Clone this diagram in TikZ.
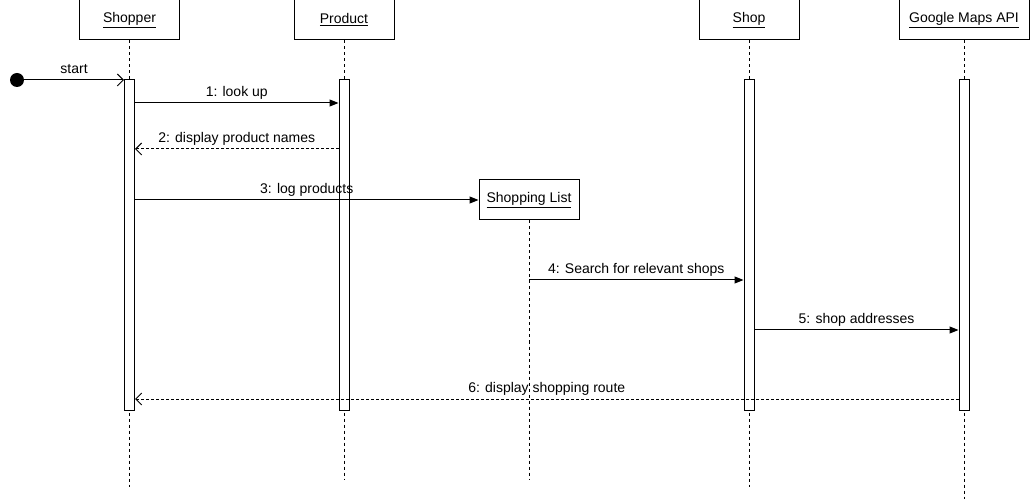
\documentclass[tikz,border=0pt]{standalone}
\usepackage{fontspec}
\setmainfont{Liberation Sans}
\usetikzlibrary{arrows.meta}

\begin{document}
\begin{tikzpicture}[x=1pt,y=-1pt,
		font=\fontsize{14}{16}\selectfont,
		objbox/.style={draw,line width=1pt,fill=white,minimum width=100pt,minimum height=40pt,inner sep=0pt},
		actbar/.style={draw,line width=1pt,fill=white,minimum width=10pt,minimum height=330pt,inner sep=0pt},
		lifeline/.style={line width=0.8pt,dash pattern=on 3pt off 3pt},
		callmsg/.style={line width=1pt,-{Triangle[length=9pt,width=7pt]}},
		replymsg/.style={line width=1pt,dash pattern=on 3pt off 2pt,-{Straight Barb[length=6pt,width=12pt]}},
		msglabel/.style={above,inner sep=3pt,text height=10pt,text depth=3pt}]
	\useasboundingbox (0,0) rectangle (1030,502);
	
	\node[objbox] (shopper) at (129.5,20) {\underline{Shopper}};
	\node[objbox] (product) at (344,20) {\underline{Product}};
	\node[objbox] (shop) at (749,20) {\underline{Shop}};
	\node[objbox,minimum width=130pt] (maps) at (964,20) {\underline{Google Maps API}};
	\node[objbox] (list) at (529,200) {\underline{Shopping List}};
	
	\coordinate (shopperend) at (129.5,487);
	\coordinate (productend) at (344,480);
	\coordinate (listend) at (529,480);
	\coordinate (shopend) at (749,487);
	\coordinate (mapsend) at (964,499);
	
	\draw[lifeline] (shopper.south) -- (shopperend);
	\draw[lifeline] (product.south) -- (productend);
	\draw[lifeline] (list.south) -- (listend);
	\draw[lifeline] (shop.south) -- (shopend);
	\draw[lifeline] (maps.south) -- (mapsend);
	
	\node[actbar] (shopperbar) at (129.5,245) {};
	\node[actbar] (productbar) at (344,245) {};
	\node[actbar] (shopbar) at (749,245) {};
	\node[actbar] (mapsbar) at (964,245) {};
	
	\node[circle,fill=black,minimum size=14pt,inner sep=0pt] (start) at (17,80) {};
	\draw[line width=1pt,-{Straight Barb[length=6pt,width=12pt]}] (start) -- (shopperbar.west |- start) node[msglabel,midway] {start};
	
	\draw[callmsg] (shopperbar.east |- 0,103) -- (productbar.west |- 0,103) node[msglabel,midway] {1: look up};
	\draw[replymsg] (productbar.west |- 0,149) -- (shopperbar.east |- 0,149) node[msglabel,midway] {2: display product names};
	\draw[callmsg] (shopperbar.east |- list) -- (list.west) node[msglabel,midway] {3: log products};
	\draw[callmsg] (list.south |- 0,280) -- (shopbar.west |- 0,280) node[msglabel,midway] {4: Search for relevant shops};
	\draw[callmsg] (shopbar.east |- 0,330) -- (mapsbar.west |- 0,330) node[msglabel,midway] {5: shop addresses};
	\draw[replymsg] (mapsbar.west |- 0,399) -- (shopperbar.east |- 0,399) node[msglabel,midway] {6: display shopping route};
\end{tikzpicture}
\end{document}
